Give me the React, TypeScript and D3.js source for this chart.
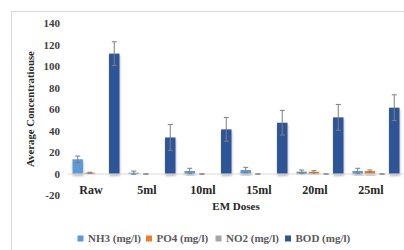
import React, { useRef, useEffect } from 'react';
import * as d3 from 'd3';

const categories = ['Raw', '5ml', '10ml', '15ml', '20ml', '25ml'];
const seriesNames = ['NH3 (mg/l)', 'PO4 (mg/l)', 'NO2 (mg/l)', 'BOD (mg/l)'];
const seriesColors = ['#5b9bd5', '#ed7d31', '#a5a5a5', '#2f5597'];

const nh3 = [13.7, 1.2, 2.8, 3.7, 2.2, 2.8];
const po4 = [1.2, 0, 0, 0, 2.1, 2.8];
const no2 = [0, 0, 0, 0, 0, 0];
const bod = [112, 34, 41.5, 47.7, 52.7, 61.7];

// error bar half-widths; null = no error bar drawn
const nh3Err = [3, 1.5, 2.5, 2.5, 1.5, 2.5];
const po4Err = [0.4, 0, 0, 0, 1, 1];
const no2Err: (number | null)[] = [null, null, null, null, 0, 0];
const bodErr = [11, 12, 11, 11.5, 12, 12];

const yTicks = [-20, 0, 20, 40, 60, 80, 100, 120, 140];

const values = [nh3, po4, no2, bod];
const errors = [nh3Err, po4Err, no2Err, bodErr];

const W = 404;
const H = 250;

const App: React.FC = () => {
  const svgRef = useRef<SVGSVGElement>(null);

  useEffect(() => {
    if (!svgRef.current) return;
    const svg = d3.select(svgRef.current);
    svg.selectAll('*').remove();

    const font = '"Liberation Serif", "Times New Roman", serif';

    const x = d3.scaleBand().domain(categories).range([68, 404]).paddingInner(0).paddingOuter(0);
    const inner = d3.scaleBand().domain(seriesNames).range([4.5, x.bandwidth() - 4.5]).paddingInner(0.14);
    const y = d3.scaleLinear().domain([-20, 140]).range([195.5, 23.5]);

    const defs = svg.append('defs');
    const f = defs.append('filter').attr('id', 'shadow').attr('x', '-20%').attr('y', '-20%').attr('width', '140%').attr('height', '160%');
    f.append('feDropShadow')
      .attr('dx', 0.5)
      .attr('dy', 2)
      .attr('stdDeviation', 1)
      .attr('flood-color', '#000')
      .attr('flood-opacity', 0.28);

    // chart frame
    svg.append('rect')
      .attr('x', 11.5)
      .attr('y', 11.5)
      .attr('width', 420)
      .attr('height', 260)
      .attr('fill', '#fff')
      .attr('stroke', '#d9d9d9');

    // y tick labels
    yTicks.forEach(t => {
      svg.append('text')
        .attr('x', 60)
        .attr('y', y(t))
        .attr('dy', '0.36em')
        .attr('text-anchor', 'end')
        .attr('font-family', font)
        .attr('font-size', '11px')
        .attr('font-weight', 'bold')
        .attr('fill', '#404040')
        .text(t);
    });

    // bars
    const bars = svg.append('g');
    values.forEach((vals, si) => {
      vals.forEach((v, ci) => {
        if (v === 0) return;
        const bx = x(categories[ci])! + inner(seriesNames[si])!;
        bars.append('rect')
          .attr('x', bx)
          .attr('y', y(Math.max(0, v)))
          .attr('width', inner.bandwidth())
          .attr('height', Math.abs(y(v) - y(0)))
          .attr('fill', seriesColors[si])
          .attr('filter', 'url(#shadow)');
      });
    });

    // zero line
    svg.append('line')
      .attr('x1', 68)
      .attr('x2', 404)
      .attr('y1', y(0))
      .attr('y2', y(0))
      .attr('stroke', '#d9d9d9')
      .attr('stroke-width', 1);

    // error bars
    const err = svg.append('g').attr('stroke', '#7f7f7f').attr('stroke-width', 1);
    errors.forEach((errs, si) => {
      errs.forEach((e, ci) => {
        if (e === null) return;
        const v = values[si][ci];
        const cx = x(categories[ci])! + inner(seriesNames[si])! + inner.bandwidth() / 2;
        const cap = 2.5;
        err.append('line')
          .attr('x1', cx).attr('x2', cx)
          .attr('y1', y(v + e)).attr('y2', y(v - e));
        [v + e, v - e].forEach(p => {
          err.append('line')
            .attr('x1', cx - cap).attr('x2', cx + cap)
            .attr('y1', y(p)).attr('y2', y(p));
        });
      });
    });

    // category labels
    categories.forEach(c => {
      svg.append('text')
        .attr('x', x(c)! + x.bandwidth() / 2 - 5)
        .attr('y', 194)
        .attr('text-anchor', 'middle')
        .attr('font-family', font)
        .attr('font-size', '12px')
        .attr('font-weight', 'bold')
        .attr('fill', '#262626')
        .text(c);
    });

    // axis titles
    svg.append('text')
      .attr('x', 236)
      .attr('y', 210)
      .attr('text-anchor', 'middle')
      .attr('font-family', font)
      .attr('font-size', '11px')
      .attr('font-weight', 'bold')
      .attr('fill', '#262626')
      .text('EM Doses');

    svg.append('text')
      .attr('transform', `translate(34, 109) rotate(-90)`)
      .attr('text-anchor', 'middle')
      .attr('font-family', font)
      .attr('font-size', '10.8px')
      .attr('font-weight', 'bold')
      .attr('fill', '#262626')
      .text('Average Concentratiouse');

    // legend
    const legendX = [77.5, 146, 215.5, 285];
    seriesNames.forEach((s, i) => {
      svg.append('rect')
        .attr('x', legendX[i])
        .attr('y', 235.5)
        .attr('width', 6)
        .attr('height', 6)
        .attr('fill', seriesColors[i]);
      svg.append('text')
        .attr('x', legendX[i] + 10.5)
        .attr('y', 242)
        .attr('font-family', font)
        .attr('font-size', '11px')
        .attr('font-weight', 'bold')
        .attr('fill', '#595959')
        .text(s);
    });
  }, []);

  return (
    <div style={{ position: 'absolute', left: 0, top: 0, width: W, height: H, background: '#fff' }}>
      <svg ref={svgRef} width={W} height={H} style={{ display: 'block' }} />
    </div>
  );
};

export default App;
